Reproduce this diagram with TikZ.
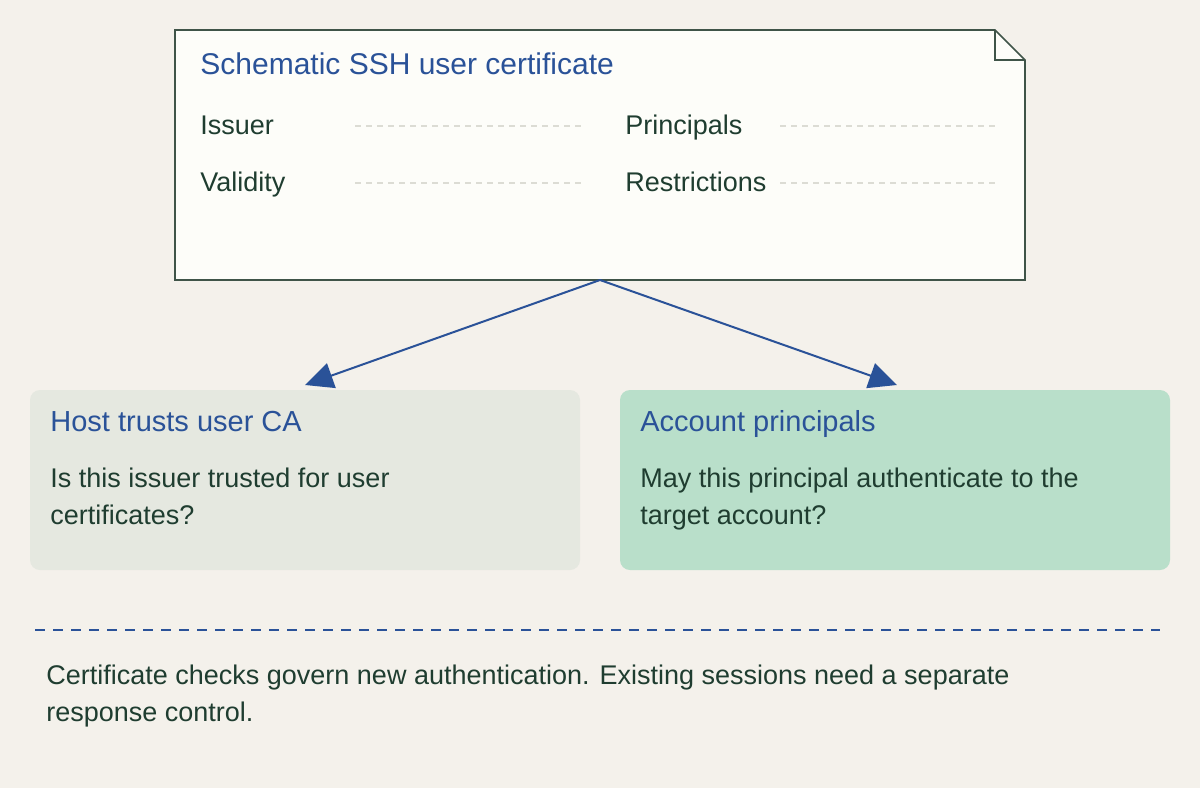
\documentclass[tikz,border=0pt]{standalone}
\usepackage{fontspec}
\setmainfont{Liberation Sans}
\usetikzlibrary{arrows.meta}
\definecolor{bgcol}{HTML}{F4F1EB}
\definecolor{certfill}{HTML}{FDFDF9}
\definecolor{certline}{HTML}{3F5448}
\definecolor{bluetxt}{HTML}{2A5298}
\definecolor{bodytxt}{HTML}{1F3D30}
\definecolor{leftfill}{HTML}{E5E8E0}
\definecolor{rightfill}{HTML}{B9DFCA}
\definecolor{dotcol}{HTML}{DCDCD4}
\tikzset{
  head/.style={anchor=base west, inner sep=0pt, text=bluetxt, font=\fontsize{14.5}{17}\selectfont},
  body/.style={anchor=base west, inner sep=0pt, text=bodytxt, font=\fontsize{13.5}{18.5}\selectfont, align=left},
  field/.style={dotcol, line width=1.2pt, dash pattern=on 3pt off 2.5pt},
  card/.style={rounded corners=5pt, draw=none},
  link/.style={draw=bluetxt, line width=1pt, -{Triangle[length=14pt,width=13pt]}}
}
\begin{document}
\begin{tikzpicture}[x=0.5pt,y=-0.5pt]
\useasboundingbox (0,0) rectangle (1200,788);
\fill[bgcol] (0,0) rectangle (1200,788);
% Certificate
\draw[certline, fill=certfill, line width=0.8pt] (175,30) -- (995,30) -- (1025,60) -- (1025,280) -- (175,280) -- cycle;
\draw[certline, line width=0.8pt] (995,30) -- (995,60) -- (1025,60);
\coordinate (certbot) at (600,280);
\node[head, font=\fontsize{15}{18}\selectfont] (title) at (200,74) {Schematic SSH user certificate};
\node[body] (issuer) at (200,134) {Issuer};
\node[body] (validity) at (200,191) {Validity};
\node[body] (principals) at (625,134) {Principals};
\node[body] (restrict) at (625,191) {Restrictions};
\draw[field] (355,126) -- (582,126);
\draw[field] (355,183) -- (582,183);
\draw[field] (780,126) -- (995,126);
\draw[field] (780,183) -- (995,183);
% Checks
\fill[card, leftfill] (30,390) rectangle (580,570);
\fill[card, rightfill] (620,390) rectangle (1170,570);
\coordinate (hostin) at (305,385);
\coordinate (acctin) at (897,385);
\node[head] (hosttitle) at (50,431) {Host trusts user CA};
\node[body] (hostbody) at (50,524) {Is this issuer trusted for user\\certificates?};
\node[head] (accttitle) at (640,431) {Account principals};
\node[body] (acctbody) at (640,524) {May this principal authenticate to the\\target account?};
\draw[link] (certbot) -- (hostin);
\draw[link] (certbot) -- (acctin);
% Note
\draw[bluetxt, line width=1pt, dash pattern=on 5pt off 4pt] (35,630) -- (1160,630);
\node[body] (note) at (46,721) {Certificate checks govern new authentication. Existing sessions need a separate\\response control.};
\end{tikzpicture}
\end{document}
